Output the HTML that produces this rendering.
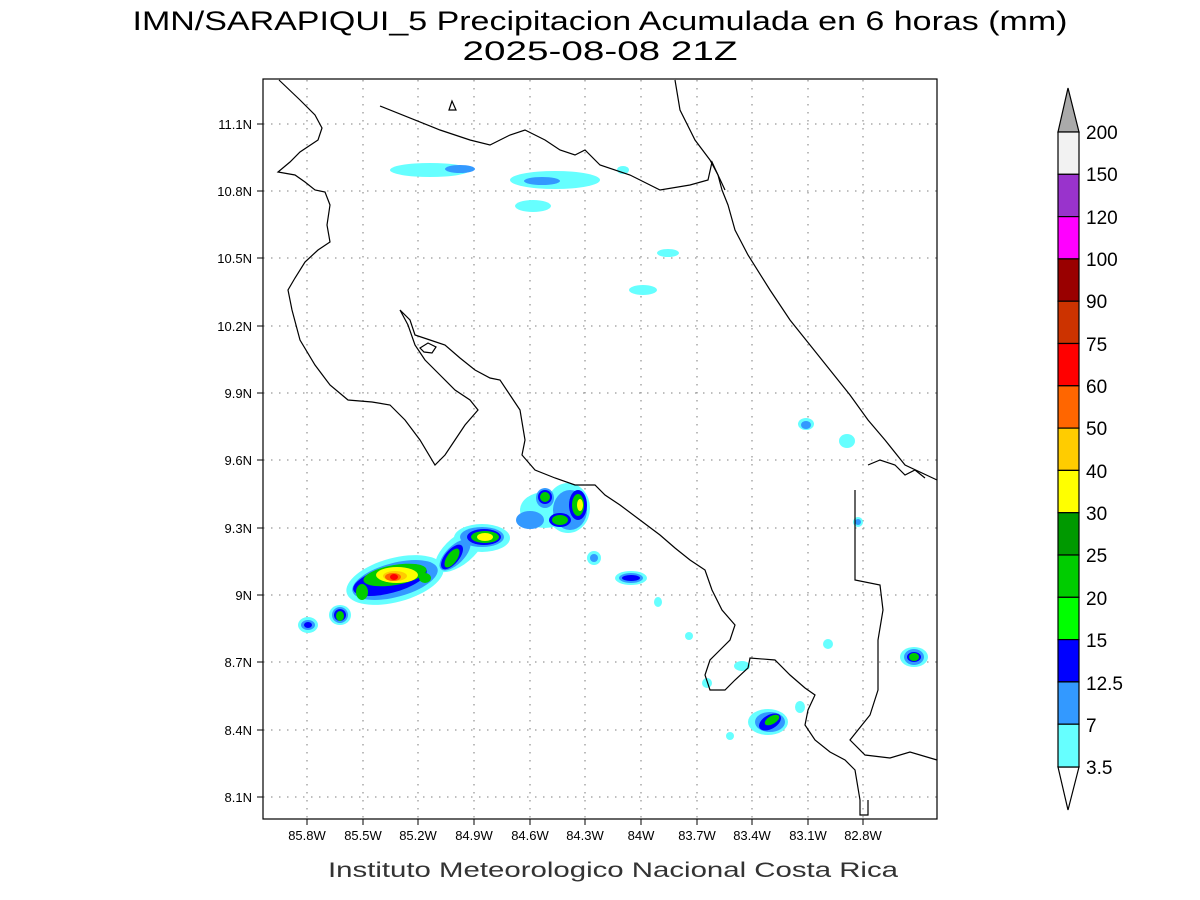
<!DOCTYPE html>
<html><head><meta charset="utf-8"><style>
body{margin:0;background:#fff;}
svg{display:block;font-family:"Liberation Sans",sans-serif;}
</style></head><body>
<svg width="1200" height="900" viewBox="0 0 1200 900" xmlns="http://www.w3.org/2000/svg">
<rect width="1200" height="900" fill="#fff"/>
<text x="600" y="30" font-size="27" text-anchor="middle" fill="#000" textLength="935" lengthAdjust="spacingAndGlyphs">IMN/SARAPIQUI_5 Precipitacion Acumulada en 6 horas (mm)</text>
<text x="600" y="60" font-size="27" text-anchor="middle" fill="#000" textLength="275" lengthAdjust="spacingAndGlyphs">2025-08-08 21Z</text>
<!-- grid -->
<g stroke="#999" stroke-width="1.3" stroke-dasharray="1.5,6.5">
<line x1="307" y1="80" x2="307" y2="819"/><line x1="363" y1="80" x2="363" y2="819"/><line x1="418" y1="80" x2="418" y2="819"/><line x1="474" y1="80" x2="474" y2="819"/><line x1="530" y1="80" x2="530" y2="819"/><line x1="585" y1="80" x2="585" y2="819"/><line x1="641" y1="80" x2="641" y2="819"/><line x1="697" y1="80" x2="697" y2="819"/><line x1="752" y1="80" x2="752" y2="819"/><line x1="808" y1="80" x2="808" y2="819"/><line x1="863" y1="80" x2="863" y2="819"/>
<line x1="263" y1="124" x2="937" y2="124"/><line x1="263" y1="191" x2="937" y2="191"/><line x1="263" y1="258" x2="937" y2="258"/><line x1="263" y1="326" x2="937" y2="326"/><line x1="263" y1="393" x2="937" y2="393"/><line x1="263" y1="460" x2="937" y2="460"/><line x1="263" y1="528" x2="937" y2="528"/><line x1="263" y1="595" x2="937" y2="595"/><line x1="263" y1="662" x2="937" y2="662"/><line x1="263" y1="730" x2="937" y2="730"/><line x1="263" y1="797" x2="937" y2="797"/>
</g>
<!-- precip -->
<g>
<g fill="#66ffff">
<ellipse cx="430" cy="170" rx="40" ry="7"/><ellipse cx="555" cy="180" rx="45" ry="9"/><ellipse cx="533" cy="206" rx="18" ry="6"/><ellipse cx="668" cy="253" rx="11" ry="4"/><ellipse cx="643" cy="290" rx="14" ry="5"/><ellipse cx="806" cy="424" rx="8" ry="6"/><ellipse cx="847" cy="441" rx="8" ry="7"/><ellipse cx="623" cy="170" rx="6" ry="4"/>
<ellipse cx="308" cy="625" rx="10" ry="8"/><ellipse cx="340" cy="615" rx="11" ry="10"/><ellipse cx="395" cy="580" rx="50" ry="22" transform="rotate(-15 395 580)"/><ellipse cx="460" cy="550" rx="30" ry="14" transform="rotate(-40 460 550)"/><ellipse cx="482" cy="538" rx="28" ry="14"/><ellipse cx="545" cy="510" rx="25" ry="18"/><ellipse cx="568" cy="508" rx="22" ry="25"/><ellipse cx="594" cy="558" rx="7" ry="7"/><ellipse cx="631" cy="578" rx="16" ry="7"/><ellipse cx="658" cy="602" rx="4" ry="5"/><ellipse cx="689" cy="636" rx="4" ry="4"/><ellipse cx="707" cy="683" rx="5" ry="5"/><ellipse cx="742" cy="666" rx="8" ry="5"/><ellipse cx="768" cy="722" rx="20" ry="13"/><ellipse cx="800" cy="707" rx="5" ry="6"/><ellipse cx="828" cy="644" rx="5" ry="5"/><ellipse cx="914" cy="657" rx="14" ry="10"/><ellipse cx="858" cy="522" rx="5" ry="5"/><ellipse cx="730" cy="736" rx="4" ry="4"/>
</g>
<g fill="#3399ff">
<ellipse cx="460" cy="169" rx="15" ry="4"/><ellipse cx="542" cy="181" rx="18" ry="4"/><ellipse cx="806" cy="425" rx="5" ry="4"/><ellipse cx="530" cy="520" rx="14" ry="9"/><ellipse cx="308" cy="625" rx="7" ry="5"/><ellipse cx="340" cy="615" rx="8" ry="8"/><ellipse cx="395" cy="580" rx="44" ry="17" transform="rotate(-15 395 580)"/><ellipse cx="455" cy="555" rx="20" ry="9" transform="rotate(-45 455 555)"/><ellipse cx="482" cy="537" rx="22" ry="10"/><ellipse cx="545" cy="498" rx="9" ry="10"/><ellipse cx="570" cy="510" rx="17" ry="20"/><ellipse cx="594" cy="558" rx="4" ry="4"/><ellipse cx="631" cy="578" rx="12" ry="5"/><ellipse cx="770" cy="722" rx="15" ry="10"/><ellipse cx="914" cy="657" rx="10" ry="8"/><ellipse cx="858" cy="522" rx="3" ry="3"/>
</g>
<g fill="#0000ff">
<ellipse cx="308" cy="625" rx="4" ry="3"/><ellipse cx="340" cy="615" rx="6" ry="6"/><ellipse cx="390" cy="580" rx="38" ry="13" transform="rotate(-15 390 580)"/><ellipse cx="452" cy="557" rx="15" ry="7" transform="rotate(-50 452 557)"/><ellipse cx="484" cy="537" rx="17" ry="8"/><ellipse cx="545" cy="497" rx="7" ry="7"/><ellipse cx="578" cy="505" rx="9" ry="15"/><ellipse cx="560" cy="520" rx="11" ry="7"/><ellipse cx="631" cy="578" rx="9" ry="3"/><ellipse cx="770" cy="722" rx="12" ry="7" transform="rotate(-30 770 722)"/><ellipse cx="914" cy="657" rx="7" ry="5"/>
</g>
<g fill="#00cc00">
<ellipse cx="340" cy="616" rx="4" ry="5"/><ellipse cx="362" cy="592" rx="6" ry="8"/><ellipse cx="395" cy="575" rx="32" ry="10" transform="rotate(-10 395 575)"/><ellipse cx="425" cy="578" rx="6" ry="5"/><ellipse cx="452" cy="558" rx="11" ry="5" transform="rotate(-55 452 558)"/><ellipse cx="485" cy="537" rx="14" ry="6"/><ellipse cx="545" cy="497" rx="5" ry="5"/><ellipse cx="578" cy="505" rx="6" ry="11"/><ellipse cx="560" cy="520" rx="8" ry="5"/><ellipse cx="772" cy="720" rx="8" ry="4" transform="rotate(-30 772 720)"/><ellipse cx="914" cy="657" rx="5" ry="4"/>
</g>
<g fill="#ffff00"><ellipse cx="397" cy="575" rx="21" ry="8"/><ellipse cx="485" cy="537" rx="8" ry="4"/><ellipse cx="580" cy="505" rx="3" ry="6"/></g>
<g fill="#ffcc00"><ellipse cx="395" cy="576" rx="12" ry="5"/></g>
<g fill="#ff6600"><ellipse cx="393" cy="577" rx="8" ry="4"/></g>
<g fill="#ff0000"><ellipse cx="394" cy="577" rx="4" ry="3"/></g>
</g>
<!-- coast -->
<g fill="none" stroke="#000" stroke-width="1.2">
<polyline points="279,80 300,100 315,115 322,128 318,140 300,152 290,162 278,172 295,175 305,182 315,190 325,192 330,205 327,225 330,242 318,250 305,262 295,278 288,290 292,310 300,340 315,365 330,385 348,400 372,402 390,405 405,420 420,440 435,465 445,455 455,440 465,425 478,410 470,400 455,390 440,375 425,360 415,345 408,325 400,310 410,320 415,335 430,340 445,345 460,358 475,370 490,378 500,380 510,395 520,410 525,440 522,455 535,470 555,478 575,485 595,485 605,495 620,505 640,520 660,535 675,548 690,560 705,570 712,590 722,610 735,625 730,640 720,650 710,660 705,675 710,690 725,690 735,680 748,668 750,658 775,660 790,675 805,688 815,695 808,710 805,725 815,740 830,752 845,760 855,770 860,800 860,815 868,815 868,800"/>
<polyline points="380,106 440,130 470,140 490,145 510,135 525,130 545,140 560,150 575,155 585,150 600,165 630,175 660,190 690,185 708,180 712,162 718,175 725,190"/>
<polyline points="675,80 680,110 695,140 710,160 718,175 722,190 728,205 735,230 748,255 770,290 790,320 810,345 830,370 850,395 868,420 885,440 905,465 937,480"/>
<polyline points="855,490 855,580 880,585 883,610 878,640 878,690 870,715 850,740 865,755 890,758 910,752 937,760"/>
<polyline points="868,465 880,460 895,465 905,475 915,470 925,478"/>
<polygon points="420,348 428,343 436,347 432,353 424,352"/>
<polygon points="449,110 452,101 456,110"/>
</g>
<rect x="263" y="79" width="674" height="740" fill="none" stroke="#000" stroke-width="1.2"/>
<!-- ticks -->
<g stroke="#000" stroke-width="1">
<line x1="307" y1="819" x2="307" y2="825"/><line x1="363" y1="819" x2="363" y2="825"/><line x1="418" y1="819" x2="418" y2="825"/><line x1="474" y1="819" x2="474" y2="825"/><line x1="530" y1="819" x2="530" y2="825"/><line x1="585" y1="819" x2="585" y2="825"/><line x1="641" y1="819" x2="641" y2="825"/><line x1="697" y1="819" x2="697" y2="825"/><line x1="752" y1="819" x2="752" y2="825"/><line x1="808" y1="819" x2="808" y2="825"/><line x1="863" y1="819" x2="863" y2="825"/>
<line x1="257" y1="124" x2="263" y2="124"/><line x1="257" y1="191" x2="263" y2="191"/><line x1="257" y1="258" x2="263" y2="258"/><line x1="257" y1="326" x2="263" y2="326"/><line x1="257" y1="393" x2="263" y2="393"/><line x1="257" y1="460" x2="263" y2="460"/><line x1="257" y1="528" x2="263" y2="528"/><line x1="257" y1="595" x2="263" y2="595"/><line x1="257" y1="662" x2="263" y2="662"/><line x1="257" y1="730" x2="263" y2="730"/><line x1="257" y1="797" x2="263" y2="797"/>
</g>
<g font-size="13" text-anchor="middle" fill="#000">
<text x="307" y="840">85.8W</text><text x="363" y="840">85.5W</text><text x="418" y="840">85.2W</text><text x="474" y="840">84.9W</text><text x="530" y="840">84.6W</text><text x="585" y="840">84.3W</text><text x="641" y="840">84W</text><text x="697" y="840">83.7W</text><text x="752" y="840">83.4W</text><text x="808" y="840">83.1W</text><text x="863" y="840">82.8W</text>
</g>
<g font-size="13" text-anchor="end" fill="#000">
<text x="252" y="129">11.1N</text><text x="252" y="196">10.8N</text><text x="252" y="263">10.5N</text><text x="252" y="331">10.2N</text><text x="252" y="398">9.9N</text><text x="252" y="465">9.6N</text><text x="252" y="533">9.3N</text><text x="252" y="600">9N</text><text x="252" y="667">8.7N</text><text x="252" y="735">8.4N</text><text x="252" y="802">8.1N</text>
</g>
<text x="613" y="877" font-size="21" text-anchor="middle" fill="#333" textLength="570" lengthAdjust="spacingAndGlyphs">Instituto Meteorologico Nacional Costa Rica</text>
<!-- colorbar -->
<g stroke="#000" stroke-width="1.2">
<polygon points="1058,132 1068,88 1079,132" fill="#aaaaaa"/>
<polygon points="1058,767 1068,810 1079,767" fill="#ffffff"/>
<rect x="1058" y="132" width="21" height="42.3" fill="#f2f2f2"/>
<rect x="1058" y="174.3" width="21" height="42.3" fill="#9933cc"/>
<rect x="1058" y="216.6" width="21" height="42.3" fill="#ff00ff"/>
<rect x="1058" y="258.9" width="21" height="42.3" fill="#990000"/>
<rect x="1058" y="301.2" width="21" height="42.3" fill="#cc3300"/>
<rect x="1058" y="343.5" width="21" height="42.3" fill="#ff0000"/>
<rect x="1058" y="385.8" width="21" height="42.3" fill="#ff6600"/>
<rect x="1058" y="428.1" width="21" height="42.3" fill="#ffcc00"/>
<rect x="1058" y="470.4" width="21" height="42.3" fill="#ffff00"/>
<rect x="1058" y="512.7" width="21" height="42.3" fill="#009900"/>
<rect x="1058" y="555" width="21" height="42.3" fill="#00cc00"/>
<rect x="1058" y="597.3" width="21" height="42.3" fill="#00ff00"/>
<rect x="1058" y="639.6" width="21" height="42.3" fill="#0000ff"/>
<rect x="1058" y="681.9" width="21" height="42.3" fill="#3399ff"/>
<rect x="1058" y="724.2" width="21" height="42.8" fill="#66ffff"/>
</g>
<g font-size="19" fill="#000">
<text x="1086" y="139">200</text><text x="1086" y="181">150</text><text x="1086" y="224">120</text><text x="1086" y="266">100</text><text x="1086" y="308">90</text><text x="1086" y="351">75</text><text x="1086" y="393">60</text><text x="1086" y="435">50</text><text x="1086" y="478">40</text><text x="1086" y="520">30</text><text x="1086" y="562">25</text><text x="1086" y="605">20</text><text x="1086" y="647">15</text><text x="1086" y="690">12.5</text><text x="1086" y="732">7</text><text x="1086" y="774">3.5</text>
</g>
</svg>
</body></html>
